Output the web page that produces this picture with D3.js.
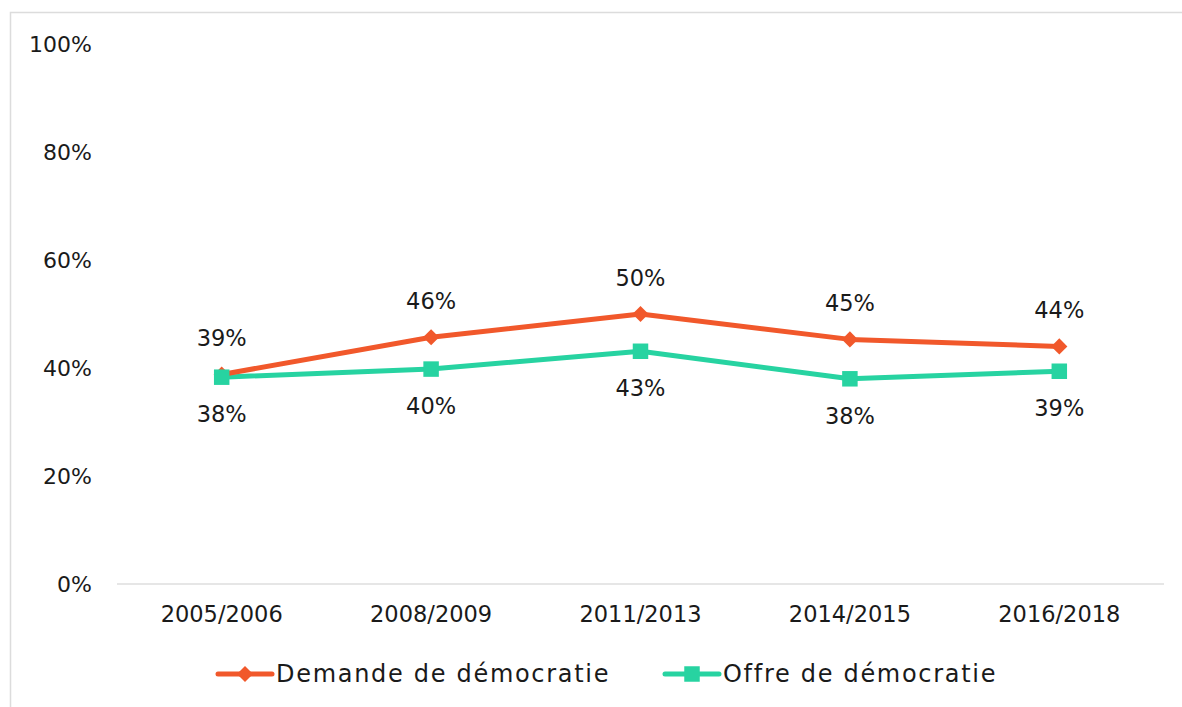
<!DOCTYPE html>
<html>
<head>
<meta charset="utf-8">
<script src="https://cdn.jsdelivr.net/npm/d3@7"></script>
<style>
  body { margin: 0; background: #fff; }
  svg text { font-family: "DejaVu Sans", sans-serif; fill: #1a1a1a; }
</style>
</head>
<body>
<svg width="1182" height="707"></svg>
<script>
// data
var periods = ["2005/2006", "2008/2009", "2011/2013", "2014/2015", "2016/2018"]
var demande = [0.388, 0.457, 0.50, 0.453, 0.44]
var offre = [0.383, 0.398, 0.431, 0.38, 0.394]
var yTicks = [0, 0.2, 0.4, 0.6, 0.8, 1]
var seriesNames = ["Demande de démocratie", "Offre de démocratie"]

var orange = "#f1582b"
var green = "#27d3a1"

var svg = d3.select("svg")

// chart frame
svg.append("rect")
  .attr("x", 10.5).attr("y", 12.5)
  .attr("width", 1200).attr("height", 720)
  .attr("fill", "none").attr("stroke", "#dcdcdc").attr("stroke-width", 1.5)

var xScale = d3.scaleBand().domain(periods).range([117, 1164])
var yScale = d3.scaleLinear().domain([0, 1]).range([584, 44])
var xc = d => xScale(d) + xScale.bandwidth() / 2

// baseline
svg.append("line")
  .attr("x1", 117).attr("x2", 1164)
  .attr("y1", yScale(0)).attr("y2", yScale(0))
  .attr("stroke", "#dedede").attr("stroke-width", 1.5)

var yAxis = d3.axisLeft(yScale).tickValues(yTicks).tickFormat(d3.format(".0%")).tickSize(0).tickPadding(0)
svg.append("g").attr("id", "yAxis")
  .attr("transform", "translate(92,0)")
  .call(yAxis)
  .call(g => g.select(".domain").remove())
  .selectAll("text")
  .attr("font-size", 22)
  .attr("font-family", "DejaVu Sans")

var xAxis = d3.axisBottom(xScale).tickSize(0).tickPadding(0)
svg.append("g").attr("id", "xAxis")
  .attr("transform", "translate(0,606)")
  .call(xAxis)
  .call(g => g.select(".domain").remove())
  .selectAll("text")
  .attr("dy", "0.71em")
  .attr("font-size", 22.5)
  .attr("font-family", "DejaVu Sans")

var line = d3.line().x((d, i) => xc(periods[i])).y(d => yScale(d))

// Offre (drawn under demande)
svg.append("path").datum(offre)
  .attr("d", line).attr("fill", "none")
  .attr("stroke", green).attr("stroke-width", 5).attr("stroke-linejoin", "round")

svg.append("path").datum(demande)
  .attr("d", line).attr("fill", "none")
  .attr("stroke", orange).attr("stroke-width", 5).attr("stroke-linejoin", "round")

var diamond = d3.symbol().type(d3.symbolSquare).size(130)
var square = d3.symbol().type(d3.symbolSquare).size(240)

svg.selectAll("path.dem").data(demande).enter()
  .append("path").attr("class", "dem")
  .attr("d", diamond)
  .attr("transform", (d, i) => "translate(" + xc(periods[i]) + "," + yScale(d) + ") rotate(45)")
  .attr("fill", orange)

svg.selectAll("path.off").data(offre).enter()
  .append("path").attr("class", "off")
  .attr("d", square)
  .attr("transform", (d, i) => "translate(" + xc(periods[i]) + "," + yScale(d) + ")")
  .attr("fill", green)

var fmt = d3.format(".0%")
svg.selectAll("text.demLab").data(demande).enter()
  .append("text").attr("class", "demLab")
  .attr("x", (d, i) => xc(periods[i]))
  .attr("y", d => yScale(d) - 36)
  .attr("dy", "0.35em")
  .attr("text-anchor", "middle")
  .attr("font-size", 22.5)
  .text(d => fmt(d))

svg.selectAll("text.offLab").data(offre).enter()
  .append("text").attr("class", "offLab")
  .attr("x", (d, i) => xc(periods[i]))
  .attr("y", d => yScale(d) + 37)
  .attr("dy", "0.35em")
  .attr("text-anchor", "middle")
  .attr("font-size", 22.5)
  .text(d => fmt(d))

// legend
var legendX = [218, 665]
var legend = svg.selectAll("g.legend").data(seriesNames).enter()
  .append("g").attr("class", "legend")
  .attr("transform", (d, i) => "translate(" + legendX[i] + ",674)")
legend.append("line")
  .attr("x1", 0).attr("x2", 54).attr("y1", 0).attr("y2", 0)
  .attr("stroke", (d, i) => i ? green : orange)
  .attr("stroke-width", 5).attr("stroke-linecap", "round")
legend.append("path")
  .attr("d", (d, i) => i ? square() : diamond())
  .attr("transform", (d, i) => "translate(27,0)" + (i ? "" : " rotate(45)"))
  .attr("fill", (d, i) => i ? green : orange)
legend.append("text")
  .attr("x", 58).attr("y", 0).attr("dy", "0.35em")
  .attr("font-size", 24)
  .attr("letter-spacing", 1.7)
  .text(d => d)
</script>
</body>
</html>
